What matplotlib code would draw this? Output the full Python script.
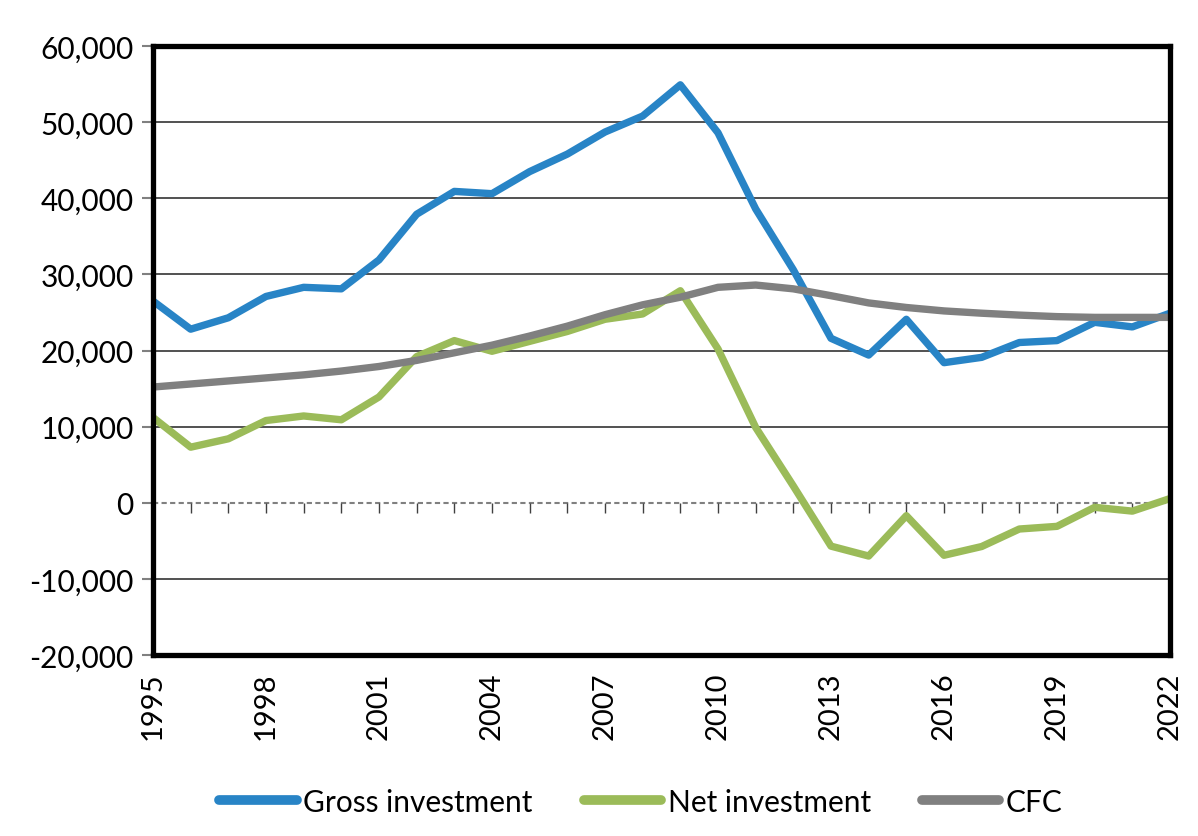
import matplotlib
matplotlib.use("Agg")
import matplotlib.pyplot as plt
from matplotlib.ticker import FuncFormatter, MultipleLocator

plt.rcParams['font.family'] = ['Lato', 'DejaVu Sans']

years = list(range(1995, 2023))
gross_investment = [26500, 22800, 24300, 27100, 28300, 28100, 31900, 37900, 40900, 40600,
                    43500, 45800, 48700, 50800, 54900, 48600, 38600, 30600, 21600, 19400,
                    24100, 18400, 19100, 21050, 21300, 23700, 23100, 24900]
net_investment = [11200, 7300, 8400, 10800, 11400, 10900, 13900, 19200, 21300, 19900,
                  21200, 22500, 24100, 24800, 27850, 20200, 9900, 2200, -5700, -7000,
                  -1700, -6900, -5750, -3450, -3100, -600, -1100, 550]
cfc = [15200, 15600, 16000, 16400, 16800, 17300, 17900, 18700, 19700, 20700,
       21900, 23200, 24700, 26000, 27000, 28300, 28600, 28100, 27200, 26250,
       25650, 25200, 24900, 24650, 24450, 24350, 24350, 24350]

series_names = ["Gross investment", "Net investment", "CFC"]
series_colors = ["#2884C6", "#9BBB59", "#808080"]
x_tick_years = list(range(1995, 2023, 3))

fig = plt.figure(figsize=(11.98, 8.37), dpi=100)
ax = fig.add_axes([153/1198, 1 - 656/837, (1170 - 153)/1198, (656 - 47)/837])

ax.set_ylim(-20000, 60000)
ax.set_xlim(1995, 2022)
ax.yaxis.set_major_locator(MultipleLocator(10000))
for v in range(-20000, 60001, 10000):
    if v == 0:
        continue
    ax.axhline(v, color="#222222", lw=1.1, zorder=1)

# zero axis line (dashed) with small ticks
ax.axhline(0, color="#808080", lw=1.5, linestyle=(0, (2.5, 1.6)), zorder=1.5)
ax.plot(years, [0] * len(years), linestyle="none", marker=3, markersize=7,
        markeredgewidth=1.0, color="#404040", zorder=1.6, clip_on=False)

data = [gross_investment, net_investment, cfc]
for vals, name, col in zip(data, series_names, series_colors):
    ax.plot(years, vals, color=col, lw=5.3, label=name, zorder=3,
            solid_joinstyle="round", solid_capstyle="butt")

for s in ax.spines.values():
    s.set_linewidth(3.8)
    s.set_color("black")
    s.set_zorder(5)

ax.yaxis.set_major_formatter(FuncFormatter(lambda v, p: f"{v:,.0f}"))
ax.tick_params(axis="y", direction="out", length=8, width=1.5, color="#808080",
               labelsize=21.5, pad=6, labelcolor="black")
ax.set_xticks(x_tick_years)
ax.set_xticklabels([str(y) for y in x_tick_years], rotation=90)
ax.tick_params(axis="x", length=0, labelsize=21, pad=12)

leg = ax.legend(loc="lower center", bbox_to_anchor=(0.535, -0.008), bbox_transform=fig.transFigure,
                ncol=3, frameon=False, fontsize=21.5, handlelength=2.6, handletextpad=0.22,
                columnspacing=1.7)
for h in leg.get_lines():
    h.set_linewidth(7)
    h.set_solid_capstyle("round")

fig.savefig("out.png", dpi=100)
